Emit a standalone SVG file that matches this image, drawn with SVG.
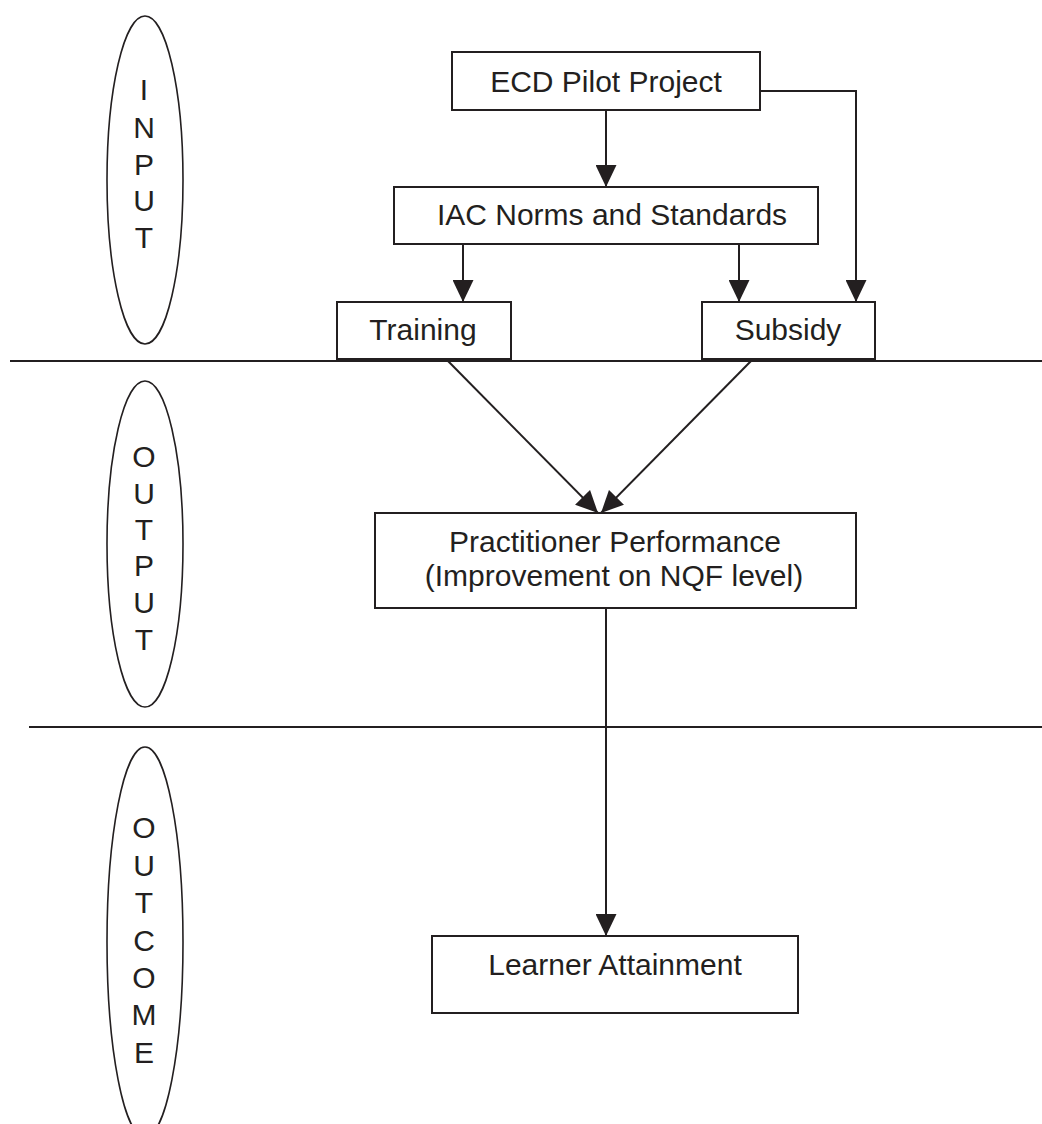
<svg xmlns="http://www.w3.org/2000/svg" width="1042" height="1124" viewBox="0 0 1042 1124">
<style>
.box{fill:#fff;stroke:#231f20;stroke-width:2}
.ell{fill:none;stroke:#231f20;stroke-width:1.6}
.sep{stroke:#231f20;stroke-width:2}
.con{fill:none;stroke:#231f20;stroke-width:2}
.t{font-family:"Liberation Sans",Arial,sans-serif;font-size:30px;fill:#231f20;text-anchor:middle}
.v{font-family:"Liberation Sans",Arial,sans-serif;font-size:30px;fill:#231f20;text-anchor:middle}
</style>
<defs>
<marker id="arr" markerUnits="userSpaceOnUse" markerWidth="22" markerHeight="21" refX="22" refY="10.5" orient="auto" viewBox="0 0 22 21">
<path d="M0,0 L22,10.5 L0,21 z" fill="#231f20"/>
</marker>
</defs>
<rect width="1042" height="1124" fill="#fff"/>
<g id="separators">
<line class="sep" x1="10" y1="361" x2="1042" y2="361"/>
<line class="sep" x1="29" y1="727" x2="1042" y2="727"/>
</g>
<g id="stage-input">
<ellipse class="ell" cx="145" cy="180" rx="38" ry="164"/>
<text class="v" x="144" y="100">I</text>
<text class="v" x="144" y="138">N</text>
<text class="v" x="144" y="175">P</text>
<text class="v" x="144" y="211">U</text>
<text class="v" x="144" y="248">T</text>
</g>
<g id="stage-output">
<ellipse class="ell" cx="145" cy="544" rx="38" ry="163"/>
<text class="v" x="144" y="467">O</text>
<text class="v" x="144" y="504">U</text>
<text class="v" x="144" y="540">T</text>
<text class="v" x="144" y="576">P</text>
<text class="v" x="144" y="613">U</text>
<text class="v" x="144" y="650">T</text>
</g>
<g id="stage-outcome">
<ellipse class="ell" cx="145" cy="942" rx="38" ry="195"/>
<text class="v" x="144" y="838">O</text>
<text class="v" x="144" y="876">U</text>
<text class="v" x="144" y="913">T</text>
<text class="v" x="144" y="951">C</text>
<text class="v" x="144" y="988">O</text>
<text class="v" x="144" y="1025">M</text>
<text class="v" x="144" y="1063">E</text>
</g>
<g id="connectors">
<line class="con" x1="606" y1="110" x2="606" y2="187" marker-end="url(#arr)"/>
<path class="con" d="M760,91 H856 V302" marker-end="url(#arr)"/>
<line class="con" x1="463" y1="244" x2="463" y2="302" marker-end="url(#arr)"/>
<line class="con" x1="739" y1="244" x2="739" y2="302" marker-end="url(#arr)"/>
<line class="con" x1="447" y1="360" x2="598" y2="513" marker-end="url(#arr)"/>
<line class="con" x1="752" y1="360" x2="601" y2="513" marker-end="url(#arr)"/>
<line class="con" x1="606" y1="608" x2="606" y2="936" marker-end="url(#arr)"/>
</g>
<g id="node-ecd">
<rect class="box" x="452" y="52" width="308" height="58"/>
<text class="t" x="606" y="92">ECD Pilot Project</text>
</g>
<g id="node-iac">
<rect class="box" x="394" y="187" width="424" height="57"/>
<text class="t" x="612" y="225">IAC Norms and Standards</text>
</g>
<g id="node-training">
<rect class="box" x="337" y="302" width="174" height="57"/>
<text class="t" x="423" y="340">Training</text>
</g>
<g id="node-subsidy">
<rect class="box" x="702" y="302" width="173" height="57"/>
<text class="t" x="788" y="340">Subsidy</text>
</g>
<g id="node-practitioner">
<rect class="box" x="375" y="513" width="481" height="95"/>
<text class="t" x="615" y="552">Practitioner Performance</text>
<text class="t" x="614" y="586">(Improvement on NQF level)</text>
</g>
<g id="node-learner">
<rect class="box" x="432" y="936" width="366" height="77"/>
<text class="t" x="615" y="975">Learner Attainment</text>
</g>
</svg>
